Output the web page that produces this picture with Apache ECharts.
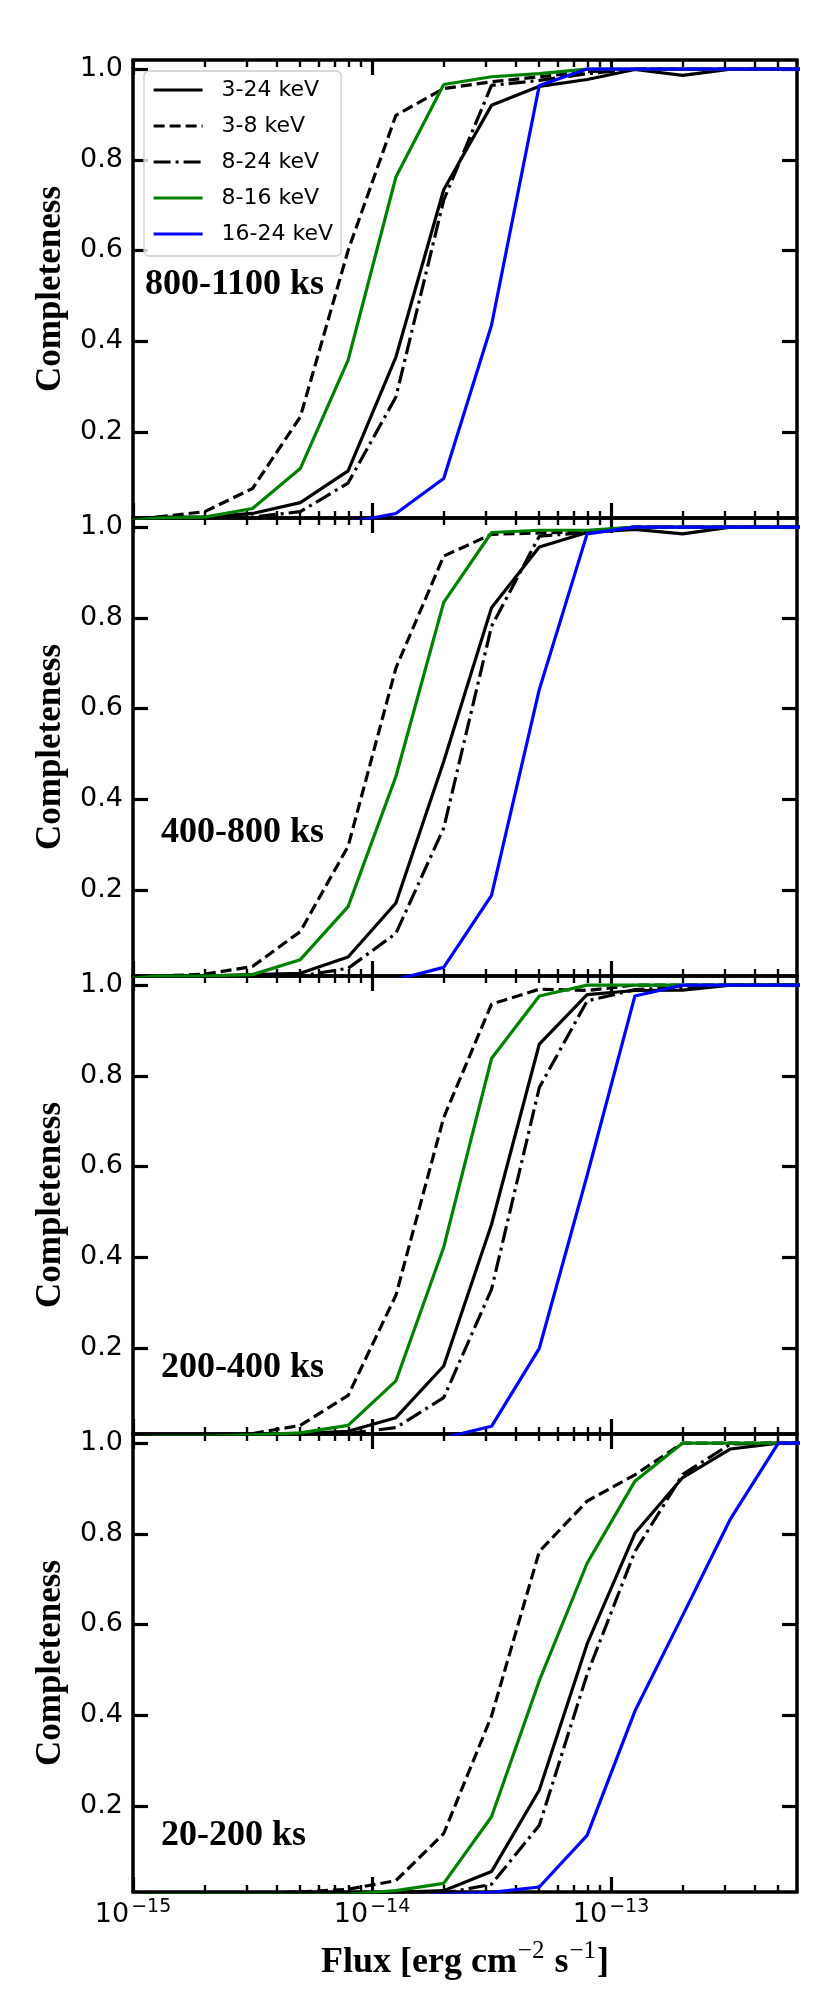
<!DOCTYPE html>
<html>
<head>
<meta charset="utf-8">
<script src="https://cdn.jsdelivr.net/npm/echarts@6/dist/echarts.min.js"></script>
<style>
  html, body { margin: 0; padding: 0; background: #fff; }
  #chart { width: 830px; height: 1993px; }
</style>
</head>
<body>
<div id="chart"></div>
<script>
// flux sample points, log10(erg cm^-2 s^-1)
const logFlux = [-15.1, -14.9, -14.7, -14.5, -14.3, -14.1, -13.9, -13.7, -13.5, -13.3, -13.1, -12.9, -12.7, -12.5, -12.3, -12.1];
const bands = ['3-24 keV', '3-8 keV', '8-24 keV', '8-16 keV', '16-24 keV'];
const panelNames = ['800-1100 ks', '400-800 ks', '200-400 ks', '20-200 ks'];
const yTicks = [0.2, 0.4, 0.6, 0.8, 1.0];
const xMajorTicks = [-15, -14, -13];
const minorMult = [2, 3, 4, 5, 6, 7, 8, 9];

// 800-1100 ks
const p1_3_24  = [0, 0.012, 0.012, 0.02, 0.044, 0.114, 0.365, 0.734, 0.92, 0.962, 0.977, 0.999, 0.986, 1.0, 1.0, 1.0];
const p1_3_8   = [0, 0.012, 0.024, 0.075, 0.233, 0.60, 0.898, 0.957, 0.972, 0.983, 0.994, 1.0, 1.0, 1.0, 1.0, 1.0];
const p1_8_24  = [0, 0.01, 0.01, 0.012, 0.024, 0.087, 0.277, 0.711, 0.964, 0.975, 0.99, 1.0, 1.0, 1.0, 1.0, 1.0];
const p1_8_16  = [0, 0.01, 0.012, 0.031, 0.119, 0.358, 0.762, 0.966, 0.983, 0.99, 1.0, 1.0, 1.0, 1.0, 1.0, 1.0];
const p1_16_24 = [0, 0, 0, 0, 0, 0, 0.02, 0.097, 0.435, 0.964, 1.0, 1.0, 1.0, 1.0, 1.0, 1.0];
// 400-800 ks
const p2_3_24  = [0, 0.01, 0.01, 0.013, 0.016, 0.052, 0.171, 0.483, 0.822, 0.956, 0.988, 0.995, 0.985, 1.0, 1.0, 1.0];
const p2_3_8   = [0, 0.01, 0.014, 0.031, 0.108, 0.296, 0.689, 0.936, 0.984, 0.987, 0.99, 1.0, 1.0, 1.0, 1.0, 1.0];
const p2_8_24  = [0, 0.005, 0.005, 0.008, 0.01, 0.027, 0.104, 0.336, 0.781, 0.98, 0.988, 1.0, 1.0, 1.0, 1.0, 1.0];
const p2_8_16  = [0, 0.01, 0.01, 0.013, 0.046, 0.163, 0.45, 0.834, 0.988, 0.993, 0.993, 1.0, 1.0, 1.0, 1.0, 1.0];
const p2_16_24 = [0, 0, 0, 0, 0, 0, 0.002, 0.029, 0.188, 0.642, 0.985, 1.0, 1.0, 1.0, 1.0, 1.0];
// 200-400 ks
const p3_3_24  = [0, 0.005, 0.005, 0.008, 0.011, 0.016, 0.046, 0.16, 0.472, 0.87, 0.979, 0.988, 0.989, 1.0, 1.0, 1.0];
const p3_3_8   = [0, 0.005, 0.006, 0.011, 0.029, 0.095, 0.316, 0.708, 0.958, 0.991, 0.988, 1.0, 1.0, 1.0, 1.0, 1.0];
const p3_8_24  = [0, 0.005, 0.005, 0.005, 0.008, 0.011, 0.024, 0.09, 0.329, 0.774, 0.965, 0.99, 0.995, 1.0, 1.0, 1.0];
const p3_8_16  = [0, 0.005, 0.005, 0.008, 0.0125, 0.029, 0.127, 0.422, 0.838, 0.976, 1.0, 1.0, 1.0, 1.0, 1.0, 1.0];
const p3_16_24 = [0, 0, 0, 0, 0, 0, 0, 0.0015, 0.027, 0.199, 0.58, 0.976, 1.0, 1.0, 1.0, 1.0];
// 20-200 ks
const p4_3_24  = [0, 0.005, 0.005, 0.005, 0.005, 0.005, 0.009, 0.013, 0.055, 0.235, 0.557, 0.801, 0.924, 0.987, 1.0, 1.0];
const p4_3_8   = [0, 0.005, 0.006, 0.007, 0.01, 0.016, 0.035, 0.139, 0.398, 0.761, 0.872, 0.93, 1.0, 1.0, 1.0, 1.0];
const p4_8_24  = [0, 0.004, 0.004, 0.004, 0.004, 0.004, 0.005, 0.007, 0.027, 0.157, 0.49, 0.761, 0.931, 0.998, 1.0, 1.0];
const p4_8_16  = [0, 0.004, 0.004, 0.004, 0.004, 0.005, 0.013, 0.029, 0.176, 0.476, 0.735, 0.916, 1.0, 1.0, 1.0, 1.0];
const p4_16_24 = [0, 0, 0, 0, 0, 0, 0, 0.005, 0.009, 0.021, 0.135, 0.409, 0.62, 0.833, 1.0, 1.0];

const panels = [
  [p1_3_24, p1_3_8, p1_8_24, p1_8_16, p1_16_24],
  [p2_3_24, p2_3_8, p2_8_24, p2_8_16, p2_16_24],
  [p3_3_24, p3_3_8, p3_8_24, p3_8_16, p3_16_24],
  [p4_3_24, p4_3_8, p4_8_24, p4_8_16, p4_16_24]
];

// layout / styles
const xMin = -15;
const xMax = Math.log10(6e-13);
const yMin = 0.01, yMax = 1.02;
const gridTop = [60, 518, 976, 1434];
const gridH = 458;
const labelLeft = [145, 161, 161, 161];
const labelTop = [267, 815, 1350, 1818];
const bandColor = ['#000000', '#000000', '#000000', '#008000', '#0000ff'];
const bandDash = ['solid', [11, 5], [17, 5, 3, 5], 'solid', 'solid'];

const xMinorTicks = [];
xMajorTicks.forEach(d => minorMult.forEach(m => {
  const v = d + Math.log10(m);
  if (v < xMax) xMinorTicks.push(v);
}));

const spine = { show: true, onZero: false, lineStyle: { color: '#000', width: 3.5 } };
const noLine = { show: false };

const xAxis = [];
const yAxis = [];
gridTop.forEach((t, i) => {
  const last = i === gridTop.length - 1;
  ['bottom', 'top'].forEach(pos => {
    xAxis.push({
      type: 'value', gridIndex: i, position: pos, min: xMin, max: xMax,
      axisLine: spine, splitLine: { show: false },
      axisTick: { show: true, inside: true, length: 15, customValues: xMajorTicks,
        lineStyle: { color: '#000', width: 3.2 } },
      axisLabel: pos === 'bottom' && last ? {
        show: true, customValues: xMajorTicks, margin: 6,
        formatter: v => '{b|10}{s|\u2212' + Math.abs(Math.round(v)) + '}',
        rich: {
          b: { fontFamily: 'DejaVu Sans', fontSize: 27, lineHeight: 30, verticalAlign: 'bottom', color: '#000' },
          s: { fontFamily: 'DejaVu Sans', fontSize: 19, lineHeight: 19, verticalAlign: 'top', color: '#000', padding: [0, 0, 0, 2] }
        }
      } : { show: false },
      name: pos === 'bottom' && last ? '{t|Flux [erg cm}{u|\u22122}{t| s}{u|\u22121}{t|]}' : '',
      nameLocation: 'middle', nameGap: 47,
      nameTextStyle: {
        rich: {
          t: { fontFamily: 'Liberation Serif', fontWeight: 'bold', fontSize: 36, lineHeight: 42, verticalAlign: 'bottom', color: '#000' },
          u: { fontFamily: 'Liberation Serif', fontSize: 25, lineHeight: 25, verticalAlign: 'top', color: '#000', padding: [0, 1, 0, 1] }
        }
      }
    });
    xAxis.push({
      type: 'value', gridIndex: i, position: pos, min: xMin, max: xMax,
      axisLine: noLine, splitLine: { show: false }, axisLabel: { show: false },
      axisTick: { show: true, inside: true, length: 7, customValues: xMinorTicks,
        lineStyle: { color: '#000', width: 2.4 } }
    });
  });
  ['left', 'right'].forEach(pos => {
    yAxis.push({
      type: 'value', gridIndex: i, position: pos, min: yMin, max: yMax,
      axisLine: spine, splitLine: { show: false },
      axisTick: { show: true, inside: true, length: 15, customValues: yTicks,
        lineStyle: { color: '#000', width: 3.2 } },
      axisLabel: pos === 'left' ? {
        show: true, customValues: yTicks, margin: 10,
        formatter: v => v.toFixed(1),
        fontFamily: 'DejaVu Sans', fontSize: 27, color: '#000'
      } : { show: false },
      name: pos === 'left' ? 'Completeness' : '',
      nameLocation: 'middle', nameRotate: 90, nameGap: 65,
      nameTextStyle: { fontFamily: 'Liberation Serif', fontWeight: 'bold', fontSize: 35, lineHeight: 34, color: '#000' }
    });
  });
});

const series = [];
panels.forEach((vals, i) => {
  vals.forEach((v, k) => {
    series.push({
      name: bands[k], type: 'line', xAxisIndex: 4 * i, yAxisIndex: 2 * i,
      data: logFlux.map((x, j) => [x, v[j]]),
      symbol: 'none', clip: true, silent: true, z: 2 + k,
      lineStyle: { color: bandColor[k], width: 3.2, type: bandDash[k], cap: 'butt' },
      itemStyle: { color: bandColor[k] }
    });
  });
});

const chart = echarts.init(document.getElementById('chart'), null, { renderer: 'canvas' });
chart.setOption({
  animation: false,
  backgroundColor: '#ffffff',
  grid: gridTop.map(t => ({ left: 133, width: 664, top: t, height: gridH })),
  xAxis: xAxis,
  yAxis: yAxis,
  title: panelNames.map((n, i) => ({
    text: n, left: labelLeft[i], top: labelTop[i], padding: 0,
    textStyle: { fontFamily: 'Liberation Serif', fontWeight: 'bold', fontSize: 36, lineHeight: 36, color: '#000' }
  })),
  legend: {
    data: bands, left: 144, top: 71, orient: 'vertical',
    itemWidth: 49, itemHeight: 20, itemGap: 14,
    padding: [8, 8, 11, 8],
    backgroundColor: 'rgba(255,255,255,0.8)',
    borderColor: '#cccccc', borderWidth: 1.3, borderRadius: 5,
    itemStyle: { opacity: 0 },
    lineStyle: { width: 3.2 },
    // matplotlib leaves a wider gap between handle and text
    formatter: name => '\u00a0\u00a0' + name,
    textStyle: { fontFamily: 'DejaVu Sans', fontSize: 22, lineHeight: 20, color: '#000' },
    selectedMode: false
  },
  series: series
});
</script>
</body>
</html>
